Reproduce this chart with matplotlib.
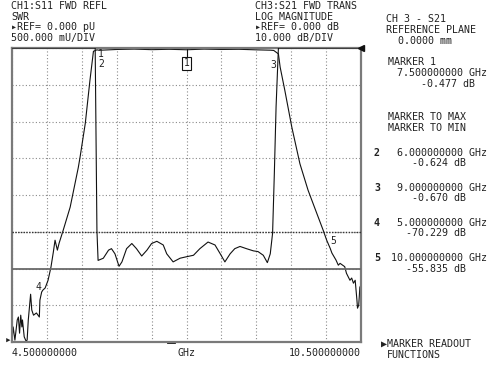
import matplotlib
matplotlib.use('Agg')
import matplotlib.pyplot as plt
import numpy as np

freq_s21 = [4.50, 4.52, 4.55, 4.59, 4.61, 4.63, 4.65, 4.67, 4.68, 4.71, 4.74, 4.76, 4.78,
            4.82, 4.84, 4.87, 4.92, 4.97, 4.98, 5.01, 5.03, 5.07, 5.12, 5.17, 5.21, 5.24,
            5.28, 5.31, 5.38, 5.50, 5.64, 5.67, 5.76, 5.84, 5.90, 5.96, 6.00, 6.30, 6.60,
            6.90, 7.20, 7.50, 7.80, 8.10, 8.40, 8.70, 8.95, 9.00, 9.08, 9.11, 9.19, 9.31,
            9.45, 9.59, 9.74, 9.85, 9.91, 9.97, 10.00, 10.07, 10.11, 10.14, 10.22, 10.25,
            10.31, 10.34, 10.37, 10.40, 10.43, 10.44, 10.46, 10.47, 10.48, 10.50]
s21_db = [-79.7, -75.9, -79.5, -74.0, -73.2, -77.6, -72.7, -75.9, -74.0, -78.6, -79.7, -79.5, -74.0,
          -67.0, -71.3, -72.7, -72.1, -73.2, -68.6, -66.4, -65.9, -65.3, -63.2, -59.6, -55.6, -52.3,
          -55.0, -53.1, -49.6, -43.3, -32.5, -29.7, -20.5, -8.8, -0.9, -0.5, -0.62, -0.4, -0.3,
          -0.45, -0.35, -0.48, -0.3, -0.4, -0.35, -0.5, -0.6, -0.67, -1.6, -5.2, -11.5, -21.5,
          -31.5, -38.7, -45.0, -49.6, -52.3, -54.5, -55.8, -57.7, -59.1, -58.6, -59.5, -61.3,
          -63.2, -62.6, -64.0, -63.2, -68.6, -70.8, -70.0, -67.8, -65.1, -64.5]

freq_s11 = [4.50, 5.93, 5.96, 5.98, 6.07, 6.16, 6.21, 6.27, 6.34, 6.39, 6.47, 6.56, 6.64, 6.73,
            6.82, 6.90, 6.99, 7.10, 7.16, 7.27, 7.39, 7.50, 7.62, 7.73, 7.87, 7.99, 8.08, 8.16,
            8.25, 8.33, 8.42, 8.53, 8.65, 8.73, 8.82, 8.89, 8.94, 8.98, 9.01, 9.04, 9.08, 10.50]
s11_swr = [4.0, 4.0, 1.52, 1.11, 1.14, 1.25, 1.27, 1.20, 1.03, 1.09, 1.27, 1.34, 1.27, 1.17,
           1.25, 1.34, 1.37, 1.32, 1.20, 1.09, 1.14, 1.16, 1.18, 1.27, 1.36, 1.32, 1.20, 1.09,
           1.20, 1.27, 1.30, 1.27, 1.24, 1.23, 1.18, 1.08, 1.20, 1.48, 2.29, 3.20, 4.0, 4.0]

swr_limit = 1.5
swr_unity = 1.0

marker_ids = ['2', '3', '4', '5']
marker_freqs = ['6.000000000 GHz', '9.000000000 GHz', '5.000000000 GHz', '10.000000000 GHz']
marker_vals = ['-0.624 dB', '-0.670 dB', '-70.229 dB', '-55.835 dB']

x_start_label = '4.500000000'
x_stop_label = '10.500000000'

W, H = 493, 370
FONT = ['DejaVu Sans Mono', 'DejaVu Sans']
TC = '#222222'
FS = 7.2
PITCH = FS / 72 * 100 * 0.602

fig = plt.figure(figsize=(W / 100, H / 100), dpi=100)
fig.patch.set_facecolor('white')
ax = fig.add_axes([12 / W, 28 / H, 349 / W, 294 / H])
ax.set_xlim(4.5, 10.5)
ax.set_ylim(-80, 0)
ax.set_xticks(np.linspace(4.5, 10.5, 11))
ax.set_yticks(np.linspace(-80, 0, 9))
ax.grid(True, linestyle=(0, (1, 2)), color='#8a8a8a', linewidth=0.8)
ax.tick_params(length=0, labelbottom=False, labelleft=False)
for s in ax.spines.values():
    s.set_color('#7a7a7a')
    s.set_linewidth(1.6)

ax2 = ax.twinx()
ax2.set_ylim(0, 4)
ax2.tick_params(length=0, labelright=False)
for s in ax2.spines.values():
    s.set_visible(False)

# limit lines
ax2.axhline(swr_limit, color='#333333', linestyle=(0, (1, 1)), linewidth=1.0)
ax2.axhline(swr_unity, color='#6a6a6a', linestyle='-', linewidth=1.3)

# traces
ax.plot(freq_s21, s21_db, color='#111111', linewidth=0.8)
ax2.plot(freq_s11, s11_swr, color='#111111', linewidth=0.8)

# markers
ax.plot([7.5, 7.5], [0, -2.8], color='#111111', linewidth=0.8)
ax.text(7.5, -2.8, '1', ha='center', va='top', fontsize=7, family=FONT, color=TC,
        bbox=dict(boxstyle='square,pad=0.15', fc='white', ec='#111111', lw=0.8))
ax.text(5.98, -1.6, '1', ha='left', va='center', fontsize=7, family=FONT, color=TC)
ax.text(5.98, -4.3, '2', ha='left', va='center', fontsize=7, family=FONT, color=TC)
ax.text(8.99, -4.6, '3', ha='center', va='center', fontsize=7, family=FONT, color=TC)
ax.text(5.0, -66.5, '4', ha='right', va='bottom', fontsize=7, family=FONT, color=TC)
ax.text(9.97, -52.5, '5', ha='left', va='center', fontsize=7, family=FONT, color=TC)
ax.plot([7.18, 7.28], [-80, -80], color='#111111', linewidth=2.0, clip_on=False)

# reference position arrows
ax.plot([10.5], [0], marker='<', color='#111111', markersize=4, clip_on=False, zorder=5)
fig.text(5 / W, 1 - 341 / H, '\u25b8', fontsize=8, family=FONT, color=TC, va='center')


def t(x, y, s, ha='left', size=FS, weight='normal'):
    fig.text(x / W, 1 - y / H, s, ha=ha, va='center', fontsize=size, family=FONT,
             color=TC, weight=weight)


# header left
t(11, 6, 'CH1:S11 FWD REFL')
t(11, 16.5, 'SWR')
t(11, 27, '\u25b8REF= 0.000 pU')
t(11, 38, '500.000 mU/DIV')
# header right
t(255, 6, 'CH3:S21 FWD TRANS')
t(255, 16.5, 'LOG MAGNITUDE')
t(255, 27, '\u25b8REF= 0.000 dB')
t(255, 38, '10.000 dB/DIV')

# side panel
t(386, 19, 'CH 3 - S21')
t(386, 30, 'REFERENCE PLANE')
t(398, 41, '0.0000 mm')
t(388, 62, 'MARKER 1')
t(397, 73, '7.500000000 GHz')
t(421, 84, '-0.477 dB')
t(388, 117, 'MARKER TO MAX')
t(388, 128, 'MARKER TO MIN')
rows_y = [153, 188, 223, 258]
for mid, mf, mv, y in zip(marker_ids, marker_freqs, marker_vals, rows_y):
    t(374, y, mid, weight='bold')
    t(397 + 15 * PITCH, y, mf, ha='right')
    t(466, y + 10.5, mv, ha='right')
t(381, 344, '\u25b6MARKER READOUT', size=FS)
t(387, 355, 'FUNCTIONS')

# x labels
t(12, 353, x_start_label)
t(187, 353, 'GHz', ha='center')
t(361, 353, x_stop_label, ha='right')

fig.savefig('out.png', dpi=100, facecolor='white')
